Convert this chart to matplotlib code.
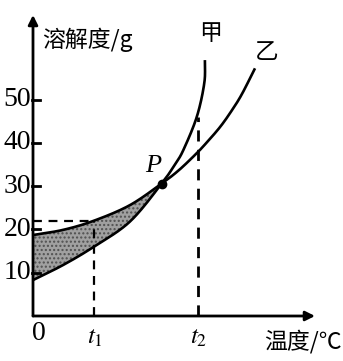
import matplotlib
matplotlib.use("Agg")
import matplotlib.pyplot as plt
import numpy as np

# curve 甲 (temperature units, solubility g) - steep one
jia_t = [0, 10.1, 20.3, 32.3, 42.9, 47.3, 50.1, 54.6, 57.1, 57.3]
jia_s = [8.3, 11.8, 16.0, 21.8, 30.6, 35.0, 38.3, 46.0, 53.8, 59.1]
# curve 乙 - flatter one
yi_t = [0, 10.1, 20.3, 32.3, 42.9, 48.5, 54, 57.3, 62.3, 66.2, 69.6, 74]
yi_s = [18.7, 19.9, 22.0, 25.6, 30.6, 33.6, 37.2, 39.6, 43.6, 47.4, 51.2, 57.2]

p_point = (42.9, 30.6)
t1, t2 = 20.3, 55.1
t1_s, t2_s = 22.0, 46.0
yticks = [10, 20, 30, 40, 50]

cjk = ['Noto Sans CJK SC', 'DejaVu Sans']
serif = 'Liberation Serif'

W, H = 343, 361
x0, y0 = 33, 316
PX_X, PX_Y = 3.0, 4.33

fig = plt.figure(figsize=(W / 100, H / 100), dpi=100)
ax = fig.add_axes([x0 / W, (H - y0) / H, 282 / W, 301 / H])
ax.set_xlim(0, 282 / PX_X)
ax.set_ylim(0, 301 / PX_Y)
for s in ax.spines.values():
    s.set_visible(False)
ax.set_xticks([])
ax.set_yticks([])

# axes with arrows
arrow = dict(arrowstyle='-|>', lw=2, color='black', mutation_scale=14,
             shrinkA=0, shrinkB=0)
ax.annotate('', xy=(282 / PX_X, 0), xytext=(0, 0), arrowprops=arrow)
ax.annotate('', xy=(0, 301 / PX_Y), xytext=(0, 0), arrowprops=arrow)


# catmull-rom through the read points (done in pixel space)
def catmull(xs, ys, n=30):
    pts = np.column_stack([np.array(xs) * PX_X, np.array(ys) * PX_Y])
    pts = np.vstack([2 * pts[0] - pts[1], pts, 2 * pts[-1] - pts[-2]])
    out = []
    for i in range(1, len(pts) - 2):
        p0, p1, p2, p3 = pts[i - 1], pts[i], pts[i + 1], pts[i + 2]
        for t in np.linspace(0, 1, n, endpoint=False):
            out.append(0.5 * ((2 * p1) + (-p0 + p2) * t +
                              (2 * p0 - 5 * p1 + 4 * p2 - p3) * t ** 2 +
                              (-p0 + 3 * p1 - 3 * p2 + p3) * t ** 3))
    out.append(pts[-2])
    out = np.array(out)
    return out[:, 0] / PX_X, out[:, 1] / PX_Y


jx, jy = catmull(jia_t, jia_s)
yx, yy = catmull(yi_t, yi_s)

# shaded region between the curves up to P
xf = np.linspace(0, p_point[0], 200)
upper = np.interp(xf, yx, yy)
lower = np.interp(xf, jx, jy)
ax.fill_between(xf, lower, upper, facecolor='#a0a0a0', edgecolor='#505050',
                hatch='....', lw=0)

ax.plot(jx, jy, color='black', lw=1.9, solid_capstyle='butt')
ax.plot(yx, yy, color='black', lw=1.9, solid_capstyle='butt')

# dashed guides
dash = (0, (4, 3))
ax.plot([0, t1], [t1_s, t1_s], ls=dash, color='black', lw=1.6)
ax.plot([t1, t1], [0, t1_s], ls=dash, color='black', lw=1.6)
ax.plot([t2, t2], [0, t2_s], ls=dash, color='black', lw=2)

ax.plot(*p_point, 'o', color='black', ms=6)

# y ticks
for v in yticks:
    ax.plot([-0.5, 2.2], [v, v], color='black', lw=2, clip_on=False)
    fig.text(31 / W, 1 - (y0 - v * PX_Y) / H, str(v), ha='right',
             va='center', fontsize=20, family=serif)

fig.text(42 / W, 1 - 40 / H, '溶解度/g', fontsize=16.5, family=cjk,
         ha='left', va='center')
fig.text(211 / W, 1 - 34 / H, '甲', fontsize=16.5, family=cjk,
         ha='center', va='center')
fig.text(267 / W, 1 - 53 / H, '乙', fontsize=17, family=cjk,
         ha='center', va='center')
fig.text(342 / W, 1 - 342 / H, '温度/℃', fontsize=16.5, family=cjk,
         ha='right', va='center')
fig.text(39 / W, 1 - 333 / H, '0', fontsize=20, family=serif,
         ha='center', va='center')
fig.text(95 / W, 1 - 337 / H, r'$\mathit{t}_{1}$', fontsize=18,
         ha='center', va='center', math_fontfamily='stix')
fig.text(199 / W, 1 - 337 / H, r'$\mathit{t}_{2}$', fontsize=18,
         ha='center', va='center', math_fontfamily='stix')
fig.text(153 / W, 1 - 166 / H, 'P', fontsize=19, family=serif,
         style='italic', ha='center', va='center')

fig.savefig('out.png', dpi=100)
